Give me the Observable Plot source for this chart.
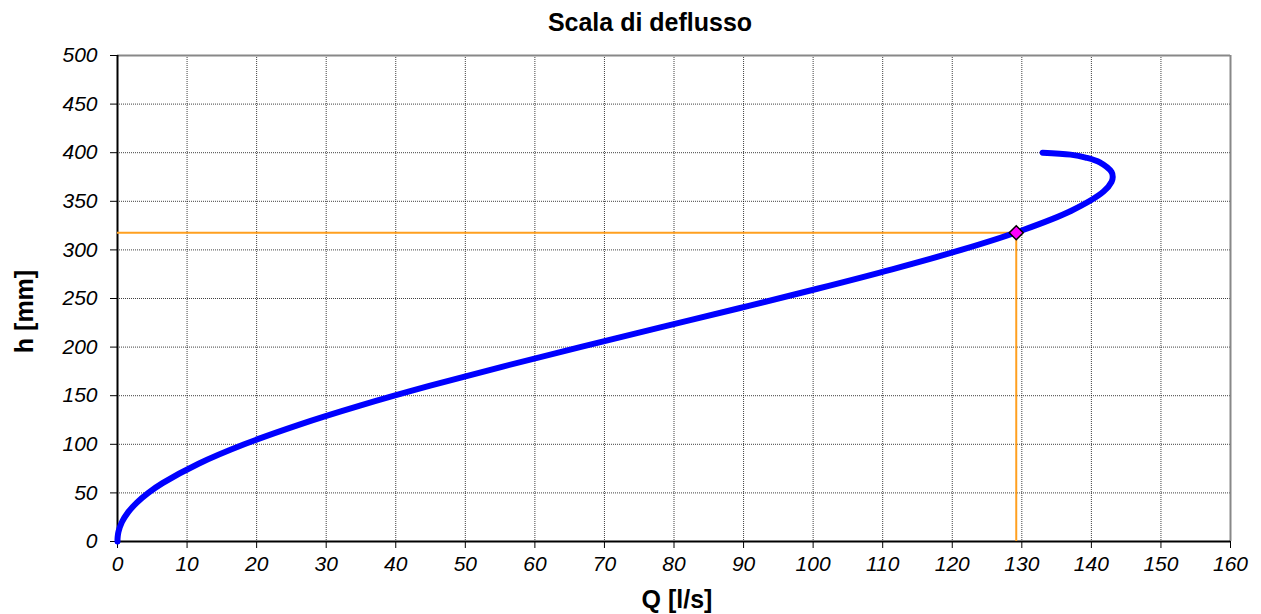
<!DOCTYPE html>
<html>
<head>
<meta charset="utf-8">
<script src="https://cdn.jsdelivr.net/npm/d3@7"></script>
<script src="https://cdn.jsdelivr.net/npm/@observablehq/plot@0.6"></script>
<style>
  html, body { margin: 0; padding: 0; background: #fff; }
  #chart svg { display: block; }
</style>
</head>
<body>
<div id="chart"></div>
<script>
// Rating curve values: water level h [mm] and discharge Q [l/s]
const hValues = [0, 2, 5, 10, 20, 30, 40, 50, 60, 80, 100, 120, 140, 160, 180, 200, 220, 240, 260, 280, 300, 320, 340, 360, 370, 375, 380, 390, 395, 398, 400];
const qValues = [0, 0.00, 0.03, 0.14, 0.64, 1.51, 2.78, 4.43, 6.47, 11.65, 18.22, 26.05, 34.97, 44.82, 55.40, 66.50, 77.90, 89.35, 100.60, 111.35, 121.28, 130.00, 137.05, 141.75, 142.90, 143.07, 142.91, 141.21, 139.18, 137.00, 133.00];

// Highlighted operating point
const markerQ = [129.2];
const markerH = [317.6];

// Axis ticks
const xTicks = [0, 10, 20, 30, 40, 50, 60, 70, 80, 90, 100, 110, 120, 130, 140, 150, 160];
const yTicks = [0, 50, 100, 150, 200, 250, 300, 350, 400, 450, 500];

const titleText = "Scala di deflusso";
const xLabel = "Q [l/s]";
const yLabel = "h [mm]";

const curve = hValues.map((h, i) => ({h, q: qValues[i]}));
const marker = markerQ.map((q, i) => ({q, h: markerH[i]}));

const font = "'Liberation Sans', Arial, Helvetica, sans-serif";
const orange = "#ffa020";

const chart = Plot.plot({
  width: 1261,
  height: 614,
  marginLeft: 117,
  marginRight: 31,
  marginTop: 55,
  marginBottom: 73,
  style: {fontFamily: font, color: "#000", background: "#fff"},
  x: {domain: [0, 160], ticks: xTicks},
  y: {domain: [0, 500], ticks: yTicks},
  marks: [
    Plot.gridX(xTicks, {stroke: "#000", strokeOpacity: 0.75, strokeDasharray: "1,1"}),
    Plot.gridY(yTicks, {stroke: "#000", strokeOpacity: 0.75, strokeDasharray: "1,1"}),
    // frame: grey top/right, black left/bottom
    Plot.ruleY([500], {stroke: "#888", strokeWidth: 2}),
    Plot.ruleX([160], {stroke: "#888", strokeWidth: 2}),
    Plot.ruleX([0], {stroke: "#000", strokeWidth: 2}),
    Plot.ruleY([0], {stroke: "#000", strokeWidth: 2}),
    Plot.axisX(xTicks, {anchor: "bottom", tickSize: 7, tickPadding: 8, fontSize: 21, fontStyle: "italic", label: null, tickFormat: d => String(d)}),
    Plot.axisY(yTicks, {anchor: "left", tickSize: 7, tickPadding: 13, fontSize: 21, fontStyle: "italic", label: null, tickFormat: d => String(d)}),
    // orange reference lines to the operating point
    Plot.ruleY(marker, {y: "h", x1: 0, x2: "q", stroke: orange, strokeWidth: 2}),
    Plot.ruleX(marker, {x: "q", y1: 0, y2: "h", stroke: orange, strokeWidth: 2}),
    // rating curve
    Plot.line(curve, {x: "q", y: "h", curve: "catmull-rom", stroke: "#0000ff", strokeWidth: 6, strokeLinecap: "round", strokeLinejoin: "round"}),
    Plot.dot(marker, {x: "q", y: "h", symbol: "diamond2", r: 6.3, fill: "#ff00ff", stroke: "#000", strokeWidth: 1.5}),
    // title and axis labels
    Plot.text([titleText], {frameAnchor: "top", textAnchor: "middle", dx: -24, dy: -33, fontSize: 25, fontWeight: "bold", fill: "#000", lineAnchor: "middle"}),
    Plot.text([xLabel], {frameAnchor: "bottom", textAnchor: "middle", dx: 3, dy: 58, fontSize: 25, fontWeight: "bold", fill: "#000", lineAnchor: "middle"}),
    Plot.text([yLabel], {frameAnchor: "left", textAnchor: "middle", dx: -93, dy: 13, rotate: -90, fontSize: 25, fontWeight: "bold", fill: "#000", lineAnchor: "middle"})
  ]
});

document.getElementById("chart").appendChild(chart);
</script>
</body>
</html>
